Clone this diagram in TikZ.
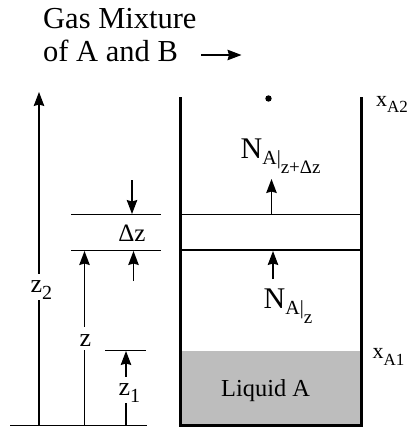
\documentclass[tikz,border=0pt]{standalone}
\usepackage{fontspec}
\setmainfont{Liberation Serif}
\usetikzlibrary{arrows.meta}
\newcommand{\fsz}[1]{\fontsize{#1}{#1}\selectfont}
\newcommand{\Nflux}[1]{\fsz{30}N\raisebox{-6.5pt}{\fsz{20}A|}\raisebox{-15pt}{\fsz{19}#1}}
\newcommand{\zsub}[1]{\fsz{26}\rule{0pt}{18pt}z\raisebox{-7.5pt}{\fsz{20}#1}}
\tikzset{
	lab/.style={inner sep=0pt, anchor=base west},
	level/.style={line width=1.3pt},
	wall/.style={line width=3pt},
	dim/.style={line width=1.3pt, -{Stealth[length=14pt, width=10.5pt, inset=1.5pt]}},
	plain/.style={line width=1.3pt}
}
\begin{document}
\begin{tikzpicture}[x=1pt, y=-1pt]
	\useasboundingbox (0,0) rectangle (407,429);

	% liquid and container
	\fill[black!26] (180,351) rectangle (361,425);
	\coordinate (wallL) at (180.5,97);
	\coordinate (wallR) at (361.5,97);
	\coordinate (floorL) at (180.5,425.5);
	\coordinate (floorR) at (361.5,425.5);
	\draw[wall] (wallL) -- (floorL) -- (floorR) -- (wallR);
	\fill (268.5,98.5) circle (3.2);

	% levels
	\coordinate (topL) at (71,214.5);
	\coordinate (topR) at (161,214.5);
	\coordinate (midL) at (71,250.5);
	\coordinate (midR) at (161,250.5);
	\coordinate (lowL) at (105,350.5);
	\coordinate (lowR) at (146,350.5);
	\coordinate (baseL) at (10,425.5);
	\coordinate (baseR) at (147,425.5);
	\coordinate (sliceTL) at (180.5,214.5);
	\coordinate (sliceTR) at (361.5,214.5);
	\coordinate (sliceBL) at (180.5,250);
	\coordinate (sliceBR) at (361.5,250);
	\draw[level] (topL) -- (topR);
	\draw[level] (midL) -- (midR);
	\draw[level] (lowL) -- (lowR);
	\draw[level] (baseL) -- (baseR);
	\draw[level] (sliceTL) -- (sliceTR);
	\draw[level] (sliceBL) -- (sliceBR);

	% texts
	\node[lab] (gas) at (43,28) {\fsz{30.5}Gas Mixture};
	\node[lab] (mix) at (43,61) {\fsz{30.5}of A and B};
	\node[lab] (xa2) at (376,106) {\fsz{22}x\raisebox{-6.5pt}{\fsz{17}A2}};
	\node[lab] (xa1) at (372.5,358.5) {\fsz{22}x\raisebox{-6.5pt}{\fsz{17}A1}};
	\node[lab] (liq) at (221,396) {\fsz{24.4}Liquid A};
	\node[lab] (Ntop) at (240.5,158) {\Nflux{z+Δz}};
	\node[lab] (Nbot) at (263.5,308) {\Nflux{z}};
	\node[anchor=base, inner sep=0pt] (dz) at (132,241) {\fsz{25}Δz};

	% dimension arrows
	\node[lab] (z2) at (30.5,292) {\zsub{2}};
	\node[lab] (z0) at (79.5,346) {\fsz{26}\rule[-4pt]{0pt}{23pt}z};
	\node[lab] (z1) at (118.5,395) {\zsub{1}};
	\coordinate (z2foot) at (39,425);
	\coordinate (z0foot) at (84.5,425);
	\coordinate (z1foot) at (126,425);
	\coordinate (z2head) at (39,92);
	\coordinate (z0head) at (84.5,251);
	\coordinate (z1head) at (126,351);
	\draw[plain] (z2foot) -- (z2foot |- z2.south);
	\draw[dim] (z2foot |- z2.north) -- (z2head);
	\draw[plain] (z0foot) -- (z0foot |- z0.south);
	\draw[dim] (z0foot |- z0.north) -- (z0head);
	\draw[plain] (z1foot) -- (z1foot |- z1.south);
	\draw[dim] (z1foot |- z1.north) -- (z1head);

	% slice arrows
	\coordinate (dzA) at (132,180);
	\coordinate (dzB) at (132,214);
	\coordinate (dzC) at (133.5,281);
	\coordinate (dzD) at (133.5,251);
	\coordinate (fluxA) at (271.5,214);
	\coordinate (fluxB) at (271.5,179);
	\coordinate (fluxC) at (273,279);
	\coordinate (fluxD) at (273,251);
	\coordinate (gasA) at (201,55);
	\coordinate (gasB) at (241.5,55);
	\draw[dim] (dzA) -- (dzB);
	\draw[dim] (dzC) -- (dzD);
	\draw[dim] (fluxA) -- (fluxB);
	\draw[dim] (fluxC) -- (fluxD);
	\draw[dim] (gasA) -- (gasB);
\end{tikzpicture}
\end{document}
